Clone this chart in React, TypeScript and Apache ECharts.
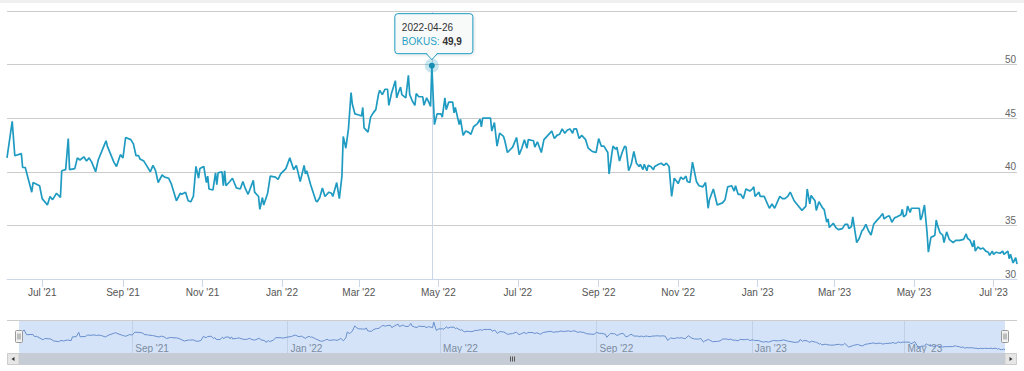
import React, { useEffect, useRef } from "react";
import * as echarts from "echarts";

// ---- data ----
const SERIES_NAME = "BOKUS";
const BASE_DATE = "2021-06-01"; // day offsets below count from this date
const dayOffsets = [
  3, 7, 9, 14, 15, 17, 22, 23, 28, 30,
  34, 36, 38, 41, 44, 45, 48, 50, 51, 55,
  57, 59, 62, 64, 66, 68, 71, 73, 77, 79,
  80, 85, 87, 90, 92, 94, 98, 100, 102, 104,
  105, 108, 110, 113, 115, 117, 119, 122, 124, 127,
  129, 133, 136, 137, 140, 142, 144, 146, 148, 150,
  151, 154, 156, 157, 158, 161, 163, 164, 165, 168,
  169, 170, 171, 174, 176, 179, 182, 184, 186, 188,
  192, 193, 196, 197, 199, 200, 203, 205, 209, 211,
  213, 217, 220, 223, 225, 228, 231, 232, 233, 236,
  240, 241, 243, 245, 247, 250, 252, 253, 256, 258,
  260, 261, 263, 265, 267, 268, 270, 273, 275, 276,
  277, 280, 282, 284, 286, 288, 289, 291, 293, 295,
  296, 298, 300, 301, 302, 304, 305, 306, 309, 311,
  312, 314, 316, 317, 319, 322, 323, 325, 327, 328,
  329, 331, 333, 336, 337, 339, 340, 342, 345, 346,
  347, 350, 351, 353, 355, 357, 359, 361, 364, 366,
  367, 368, 371, 374, 375, 377, 379, 381, 384, 385,
  387, 391, 394, 396, 398, 400, 402, 403, 407, 408,
  410, 413, 415, 418, 421, 423, 425, 427, 429, 431,
  433, 435, 437, 438, 440, 442, 444, 447, 449, 452,
  455, 457, 459, 461, 464, 465, 467, 468, 470, 471,
  473, 475, 477, 478, 480, 482, 484, 486, 488, 489,
  491, 492, 494, 495, 497, 499, 500, 503, 505, 507,
  509, 511, 513, 515, 517, 518, 520, 522, 524, 525,
  527, 529, 532, 534, 537, 539, 541, 542, 545, 548,
  552, 554, 556, 559, 561, 562, 564, 566, 568, 570,
  573, 575, 576, 577, 580, 581, 584, 588, 590, 592,
  596, 598, 600, 602, 604, 607, 609, 613, 616, 617,
  619, 620, 623, 624, 626, 629, 630, 632, 633, 634,
  637, 639, 641, 644, 646, 648, 649, 651, 652, 655,
  657, 659, 660, 662, 664, 666, 668, 670, 673, 675,
  676, 678, 680, 682, 684, 686, 689, 690, 691, 693,
  694, 696, 697, 700, 703, 704, 705, 707, 709, 710,
  712, 714, 715, 716, 717, 719, 721, 722, 724, 726,
  729, 731, 734, 737, 739, 740, 742, 744, 745, 746,
  748, 750, 752, 754, 756, 757, 759, 760, 762, 765,
  767, 768, 771, 772, 773, 775, 777, 778,
];
const prices = [
  41.3, 44.7, 41.5, 41.7, 40.4, 40.4, 38.1, 39.0, 38.7, 37.5,
  36.9, 37.7, 37.4, 38.0, 37.6, 40.1, 40.2, 43.1, 40.2, 40.3,
  41.3, 41.1, 41.4, 41.0, 41.3, 40.9, 40.0, 41.1, 42.3, 42.9,
  42.4, 40.9, 40.5, 41.6, 41.3, 43.2, 43.0, 42.6, 41.5, 41.5,
  41.2, 41.0, 40.6, 40.0, 40.6, 40.1, 39.0, 39.7, 39.5, 39.4,
  38.9, 37.3, 38.0, 37.9, 38.1, 37.3, 37.2, 37.7, 40.5, 39.4,
  40.3, 40.5, 39.0, 39.6, 38.4, 38.3, 39.9, 38.8, 39.9, 40.0,
  38.7, 40.1, 38.7, 39.1, 39.4, 38.5, 38.4, 39.1, 38.4, 37.9,
  39.2, 38.1, 37.7, 36.5, 37.6, 36.9, 38.0, 39.6, 39.5, 39.3,
  39.8, 40.3, 41.3, 40.2, 40.6, 39.1, 40.6, 39.8, 40.1, 38.8,
  37.3, 37.2, 37.6, 38.5, 37.7, 38.1, 38.0, 37.7, 39.0, 37.5,
  39.6, 43.3, 42.2, 44.0, 47.4, 46.3, 45.4, 45.3, 45.2, 46.0,
  44.1, 43.7, 45.1, 45.5, 45.8, 47.2, 47.6, 47.2, 47.7, 47.7,
  46.2, 47.3, 48.1, 48.5, 46.9, 47.6, 47.9, 47.2, 46.9, 49.0,
  47.2, 46.6, 46.2, 47.3, 47.0, 47.0, 46.2, 46.9, 46.4, 46.1,
  49.9, 44.4, 45.4, 45.4, 45.1, 46.9, 45.8, 46.5, 46.5, 45.5,
  46.0, 44.4, 44.9, 43.4, 43.8, 43.7, 43.5, 44.2, 44.5, 44.9,
  44.2, 45.0, 45.0, 45.0, 43.8, 44.6, 42.4, 43.6, 43.3, 42.9,
  41.8, 42.3, 43.2, 41.6, 42.2, 43.0, 42.2, 43.0, 42.9, 42.3,
  42.8, 41.8, 43.0, 43.4, 43.8, 43.1, 43.4, 43.5, 44.0, 43.6,
  43.9, 44.0, 43.6, 44.0, 44.0, 43.1, 43.4, 43.0, 42.2, 41.9,
  41.8, 43.1, 42.4, 42.4, 41.8, 39.8, 41.6, 42.4, 42.1, 42.3,
  41.0, 41.8, 42.4, 42.3, 40.1, 40.7, 41.9, 40.8, 40.5, 40.7,
  40.2, 40.7, 40.1, 40.6, 40.5, 40.2, 40.5, 40.7, 40.8, 40.6,
  40.8, 40.5, 37.7, 39.4, 39.1, 38.9, 39.5, 39.3, 39.6, 39.1,
  39.0, 40.9, 39.1, 38.7, 38.6, 39.0, 36.6, 37.4, 38.4, 36.9,
  37.1, 37.4, 38.6, 38.7, 38.2, 38.7, 37.9, 37.9, 37.5, 38.4,
  38.2, 38.4, 38.6, 37.7, 38.1, 37.7, 37.7, 36.6, 37.0, 36.6,
  37.7, 37.5, 37.5, 37.7, 38.1, 37.3, 37.0, 36.4, 36.8, 38.4,
  37.0, 37.8, 37.3, 36.4, 37.2, 36.6, 36.5, 35.3, 35.6, 34.8,
  35.2, 34.8, 34.6, 34.7, 35.1, 35.1, 34.7, 34.9, 35.8, 33.4,
  33.8, 34.5, 34.6, 35.1, 34.5, 34.1, 35.1, 35.4, 35.8, 36.1,
  35.6, 35.8, 35.9, 35.3, 35.7, 35.8, 36.0, 36.5, 35.8, 36.0,
  36.8, 36.2, 36.6, 36.6, 36.6, 35.5, 35.8, 36.9, 34.3, 32.5,
  33.9, 34.0, 34.1, 35.5, 35.0, 34.3, 34.1, 33.4, 34.4, 33.7,
  33.4, 33.6, 33.6, 33.7, 34.2, 33.8, 33.6, 33.0, 33.6, 32.6,
  33.0, 32.8, 32.9, 32.6, 32.5, 32.2, 32.6, 32.3, 32.5, 32.4,
  32.6, 32.3, 32.6, 31.9, 32.3, 31.5, 32.0, 31.4,
];
const mainTickDates = [
  "2021-07-01", "2021-09-01", "2021-11-01", "2022-01-01", "2022-03-01", "2022-05-01", "2022-07-01",
  "2022-09-01", "2022-11-01", "2023-01-01", "2023-03-01", "2023-05-01", "2023-07-01",
];
const mainTickLabels = [
  "Jul '21", "Sep '21", "Nov '21", "Jan '22", "Mar '22", "May '22", "Jul '22",
  "Sep '22", "Nov '22", "Jan '23", "Mar '23", "May '23", "Jul '23",
];
const navTickDates = ["2021-09-01", "2022-01-01", "2022-05-01", "2022-09-01", "2023-01-01", "2023-05-01"];
const navTickLabels = ["Sep '21", "Jan '22", "May '22", "Sep '22", "Jan '23", "May '23"];
const yMin = 30;
const yMax = 55;
const yStep = 5;
const hiddenYLabels = [55];
const tooltipDate = "2022-04-26";

// ---- styling ----
const FONT = 'Arial, "Liberation Sans", sans-serif';
const LINE = "#1f9bc2";
const DAY = 86400000;

function withZ(els: any[], z: number) {
  return els.map((e) => ({ ...e, z }));
}

export default function App() {
  const ref = useRef<HTMLDivElement>(null);

  useEffect(() => {
    if (!ref.current) return;
    const chart = echarts.init(ref.current, null, { renderer: "svg" });

    const base = Date.parse(BASE_DATE);
    const times = dayOffsets.map((d) => base + d * DAY);
    const data = times.map((t, i) => [t, prices[i]]);
    const tMin = times[0];
    const tMax = times[times.length - 1];

    const mainTicks = mainTickDates.map((s) => Date.parse(s));
    const mainLabelMap = new Map<number, string>();
    mainTicks.forEach((t, i) => mainLabelMap.set(t, mainTickLabels[i]));
    const navTicks = navTickDates.map((s) => Date.parse(s));
    const navLabelMap = new Map<number, string>();
    navTicks.forEach((t, i) => navLabelMap.set(t, navTickLabels[i]));

    const tipTs = Date.parse(tooltipDate);
    const tipIdx = times.indexOf(tipTs);
    const tipVal = prices[tipIdx];

    chart.setOption({
      animation: false,
      textStyle: { fontFamily: FONT },
      grid: [
        { left: 7, right: 7, top: 11, bottom: 92, containLabel: false },
        { left: 19, right: 19, top: 321, height: 32, containLabel: false },
      ],
      xAxis: [
        {
          type: "value",
          gridIndex: 0,
          min: tMin,
          max: tMax,
          axisLine: { lineStyle: { color: "#ccd6eb", width: 1 } },
          axisTick: { show: true, length: 8, customValues: mainTicks, lineStyle: { color: "#ccd6eb" } },
          axisLabel: {
            customValues: mainTicks,
            formatter: (v: number) => mainLabelMap.get(v) ?? "",
            color: "#555555",
            fontSize: 10,
            margin: 8,
            fontFamily: FONT,
          },
          splitLine: { show: false },
        },
        {
          type: "value",
          gridIndex: 1,
          min: tMin,
          max: tMax,
          axisLine: { show: false },
          axisTick: { show: false, customValues: navTicks },
          axisLabel: {
            inside: true,
            customValues: navTicks,
            formatter: (v: number) => navLabelMap.get(v) ?? "",
            color: "#8a8a8a",
            fontSize: 10,
            margin: 0,
            align: "left",
            padding: [0, 0, 0, 3],
            fontFamily: FONT,
          },
          splitLine: { show: true, lineStyle: { color: "#e6e6e6", width: 1 } },
        },
      ],
      yAxis: [
        {
          type: "value",
          gridIndex: 0,
          position: "right",
          min: yMin,
          max: yMax,
          interval: yStep,
          axisLine: { show: false },
          axisTick: { show: false },
          axisLabel: {
            inside: true,
            margin: 1,
            verticalAlign: "bottom",
            color: "#666666",
            fontSize: 10,
            fontFamily: FONT,
            formatter: (v: number) => (hiddenYLabels.includes(v) ? "" : String(v)),
          },
          splitLine: { show: true, lineStyle: { color: "#cccccc", width: 1 } },
        },
        {
          type: "value",
          gridIndex: 1,
          min: 29.4,
          max: 50.6,
          show: false,
          splitLine: { show: false },
        },
      ],
      series: [
        {
          name: SERIES_NAME,
          type: "line",
          xAxisIndex: 0,
          yAxisIndex: 0,
          data,
          showSymbol: false,
          symbol: "none",
          silent: true,
          lineStyle: { color: LINE, width: 1.7 },
          itemStyle: { color: LINE },
          emphasis: { disabled: true },
          z: 3,
          markLine: {
            silent: true,
            symbol: ["none", "none"],
            label: { show: false },
            lineStyle: { color: "#ccd6eb", width: 1, type: "solid" },
            data: [{ xAxis: tipTs }],
            z: 1,
          },
        },
        {
          name: SERIES_NAME + " navigator",
          type: "line",
          xAxisIndex: 1,
          yAxisIndex: 1,
          data,
          showSymbol: false,
          symbol: "none",
          silent: true,
          lineStyle: { color: "#6f8fc9", width: 1 },
          emphasis: { disabled: true },
        },
      ],
    });

    const [px, py] = chart.convertToPixel({ seriesIndex: 0 }, [tipTs, tipVal]) as number[];
    const boxFill = "#f8fafa";
    const valueText = tipVal.toFixed(1).replace(".", ",");

    const handle = (cx: number) =>
      withZ(
        [
          { type: "rect", shape: { x: cx - 3.5, y: 330.5, width: 7, height: 12, r: 1 }, style: { fill: "#f2f2f2", stroke: "#999999", lineWidth: 1 } },
          { type: "line", shape: { x1: cx - 1, y1: 333.5, x2: cx - 1, y2: 339.5 }, style: { stroke: "#888888", lineWidth: 1 } },
          { type: "line", shape: { x1: cx + 1, y1: 333.5, x2: cx + 1, y2: 339.5 }, style: { stroke: "#888888", lineWidth: 1 } },
        ],
        40
      );

    const tooltipEls = withZ(
      [
        { type: "rect", shape: { x: px - 37, y: py - 52, width: 78, height: 40, r: 3 }, style: { fill: boxFill, stroke: LINE, lineWidth: 1, shadowBlur: 3, shadowColor: "rgba(0,0,0,0.12)", shadowOffsetX: 1, shadowOffsetY: 1 } },
        { type: "polygon", shape: { points: [[px - 5.5, py - 13], [px + 5.5, py - 13], [px, py - 6.5]] }, style: { fill: boxFill } },
        { type: "polyline", shape: { points: [[px - 5.5, py - 12], [px, py - 6], [px + 5.5, py - 12]] }, style: { stroke: LINE, lineWidth: 1, fill: null } },
        {
          type: "text",
          x: px - 30,
          y: py - 38,
          style: { text: tooltipDate, fill: "#333333", font: `10px ${FONT}`, verticalAlign: "middle", align: "left" },
        },
        {
          type: "text",
          x: px - 30,
          y: py - 24.5,
          style: {
            text: `{a|${SERIES_NAME}:} {b|${valueText}}`,
            verticalAlign: "middle",
            align: "left",
            font: `10px ${FONT}`,
            rich: {
              a: { fill: "#2a9fc4", fontSize: 10, fontFamily: FONT },
              b: { fill: "#333333", fontSize: 10, fontWeight: "bold", fontFamily: FONT },
            },
          },
        },
      ],
      60
    );

    chart.setOption({
      graphic: [
        { type: "rect", z: 1, shape: { x: 0, y: 0, width: 1024, height: 3 }, style: { fill: "#efefef" } },
        // navigator mask + outline
        { type: "rect", z: 30, silent: true, shape: { x: 19, y: 321, width: 986, height: 32 }, style: { fill: "rgba(83,143,223,0.25)" } },
        { type: "line", z: 31, shape: { x1: 7, y1: 320.5, x2: 1017, y2: 320.5 }, style: { stroke: "#cccccc", lineWidth: 1 } },
        ...handle(19),
        ...handle(1005),
        // scrollbar
        { type: "rect", z: 30, shape: { x: 19, y: 353.5, width: 986, height: 11 }, style: { fill: "#c5ccd5", stroke: "#c5ccd5", lineWidth: 1 } },
        { type: "rect", z: 31, shape: { x: 7.5, y: 353.5, width: 11.5, height: 11 }, style: { fill: "#e6e6e6", stroke: "#cccccc", lineWidth: 1 } },
        { type: "polygon", z: 32, shape: { points: [[11.5, 359], [14.5, 357], [14.5, 361]] }, style: { fill: "#333333" } },
        { type: "rect", z: 31, shape: { x: 1005, y: 353.5, width: 11.5, height: 11 }, style: { fill: "#e6e6e6", stroke: "#cccccc", lineWidth: 1 } },
        { type: "polygon", z: 32, shape: { points: [[1012.5, 359], [1009.5, 357], [1009.5, 361]] }, style: { fill: "#333333" } },
        { type: "line", z: 32, shape: { x1: 510.5, y1: 356.5, x2: 510.5, y2: 361.5 }, style: { stroke: "#555555", lineWidth: 1 } },
        { type: "line", z: 32, shape: { x1: 512.5, y1: 356.5, x2: 512.5, y2: 361.5 }, style: { stroke: "#555555", lineWidth: 1 } },
        { type: "line", z: 32, shape: { x1: 514.5, y1: 356.5, x2: 514.5, y2: 361.5 }, style: { stroke: "#555555", lineWidth: 1 } },
        // hovered point
        { type: "circle", z: 20, shape: { cx: px, cy: py, r: 7 }, style: { fill: "rgba(31,155,194,0.25)" } },
        { type: "circle", z: 21, shape: { cx: px, cy: py, r: 3 }, style: { fill: "#1a8fb5" } },
        // tooltip
        ...tooltipEls,
      ],
    });

    return () => chart.dispose();
  }, []);

  return (
    <div
      ref={ref}
      style={{ position: "absolute", left: 0, top: 0, width: 1024, height: 371, background: "#ffffff" }}
    />
  );
}
